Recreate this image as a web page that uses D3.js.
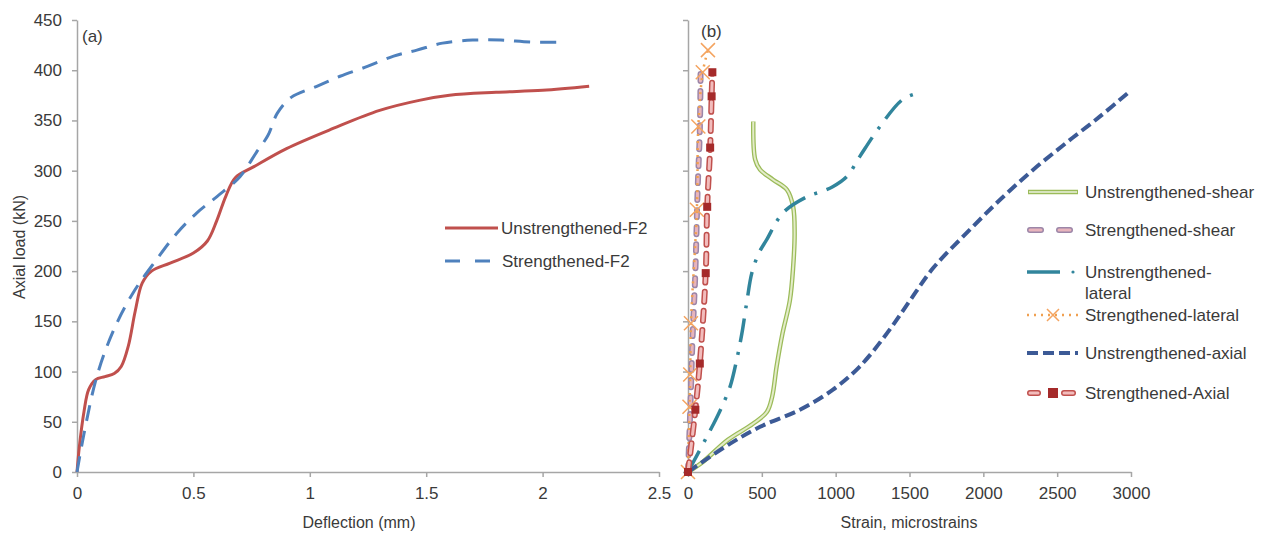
<!DOCTYPE html>
<html>
<head>
<meta charset="utf-8">
<script src="https://cdn.jsdelivr.net/npm/d3@7"></script>
<style>
  body { margin: 0; background: #fff; }
  text { font-family: "Liberation Sans", Arial, sans-serif; fill: #3a3a3a; }
</style>
</head>
<body>
<svg width="1272" height="533"></svg>
<script>
// panel (a): deflection (mm) vs axial load (kN)
var unstrF2 = [[0,0],[0.01,25],[0.03,60],[0.05,82],[0.08,92],[0.12,95],[0.16,98],[0.19,105],[0.22,125],[0.25,160],[0.28,188],[0.32,200],[0.4,208],[0.5,218],[0.56,230],[0.6,250],[0.64,275],[0.68,293],[0.76,304],[0.9,322],[1.1,342],[1.3,360],[1.47,370],[1.6,375],[1.8,378],[2.0,380],[2.2,384]];
var strF2 = [[0,0],[0.03,38],[0.085,95],[0.155,140],[0.24,178],[0.34,211],[0.43,238],[0.515,258],[0.6,274],[0.7,294],[0.77,318],[0.82,335],[0.86,357],[0.92,373],[1.03,384],[1.13,394],[1.25,404],[1.36,414],[1.46,420],[1.57,427],[1.7,430],[1.82,430],[1.95,428],[2.1,428]];

// panel (b): strain (microstrains) vs axial load (kN)
var unstrShear = [[0,0],[100,10],[270,32],[440,48],[535,60],[570,75],[600,105],[640,138],[690,171],[712,204],[722,238],[712,264],[670,281],[576,291],[488,301],[455,311],[442,349]];
var strShear = [[0,0],[15,60],[30,130],[50,200],[65,280],[80,340],[85,397]];
var unstrLateral = [[0,0],[170,47],[220,62],[285,85],[330,112],[365,138],[400,171],[432,198],[480,218],[532,231],[643,258],[805,274],[900,279],[980,284],[1075,294],[1163,314],[1300,344],[1455,371],[1575,378]];
var strLateral = [[0,0],[10,65],[15,97],[20,148],[60,261],[70,344],[100,398],[135,420]];
var unstrAxial = [[0,0],[250,25],[488,45],[758,62],[982,82],[1163,105],[1347,138],[1500,170],[1660,203],[1887,238],[2113,271],[2338,301],[2564,328],[2790,354],[3000,380]];
var strAxial = [[0,0],[50,62],[80,108],[120,198],[130,264],[150,323],[160,374],[165,398]];

var loadTicks = [0,50,100,150,200,250,300,350,400,450];
var deflTicks = [0,0.5,1,1.5,2,2.5];
var strainTicks = [0,500,1000,1500,2000,2500,3000];

var svg = d3.select("svg");
var plotTop = 20, plotBottom = 472;

var yScale = d3.scaleLinear().domain([0,450]).range([plotBottom, plotTop]);
var xA = d3.scaleLinear().domain([0,2.5]).range([77, 659]);
var xB = d3.scaleLinear().domain([0,3000]).range([688, 1131]);

function drawAxes(x, ticks, showY, fmt) {
  var gx = svg.append("g").attr("transform", "translate(0," + plotBottom + ")")
    .call(d3.axisBottom(x).tickValues(ticks).tickSize(5).tickSizeOuter(0).tickFormat(fmt));
  var gy = svg.append("g").attr("transform", "translate(" + x.range()[0] + ",0)")
    .call(d3.axisLeft(yScale).tickValues(loadTicks).tickSize(5).tickSizeOuter(0)
      .tickFormat(showY ? d3.format("d") : ""));
  [gx, gy].forEach(function(g) {
    g.select(".domain").attr("stroke", "#a6a6a6").attr("stroke-width", 1.5);
    g.selectAll(".tick line").attr("stroke", "#a6a6a6").attr("stroke-width", 1.5);
    g.selectAll(".tick text").attr("fill", "#3a3a3a").style("font-size", "17px")
      .style("font-family", "Liberation Sans, Arial, sans-serif");
  });
  gx.selectAll(".tick text").attr("dy", "1.1em");
  gy.selectAll(".tick text").attr("x", -15);
}

drawAxes(xA, deflTicks, true, function(d) { return d; });
drawAxes(xB, strainTicks, false, d3.format("d"));

var lineA = d3.line().x(function(d){return xA(d[0]);}).y(function(d){return yScale(d[1]);}).curve(d3.curveCatmullRom.alpha(0.5));
var lineB = d3.line().x(function(d){return xB(d[0]);}).y(function(d){return yScale(d[1]);}).curve(d3.curveCatmullRom.alpha(0.5));

// panel (a) series
svg.append("path").attr("d", lineA(unstrF2)).attr("fill","none").attr("stroke","#c0504d").attr("stroke-width",3);
svg.append("path").attr("d", lineA(strF2)).attr("fill","none").attr("stroke","#4f81bd").attr("stroke-width",3).attr("stroke-dasharray","16,10");

// panel (b) series
function pill(data, outline, fill, dash) {
  svg.append("path").attr("d", lineB(data)).attr("fill","none").attr("stroke",outline)
    .attr("stroke-width",6).attr("stroke-dasharray",dash).attr("stroke-linecap","round");
  svg.append("path").attr("d", lineB(data)).attr("fill","none").attr("stroke",fill)
    .attr("stroke-width",3).attr("stroke-dasharray",dash).attr("stroke-linecap","round");
}
svg.append("path").attr("d", lineB(unstrShear)).attr("fill","none").attr("stroke","#9bbb59").attr("stroke-width",4.5);
svg.append("path").attr("d", lineB(unstrShear)).attr("fill","none").attr("stroke","#e3ecc8").attr("stroke-width",2);
pill(strShear, "#9c86a8", "#e8b4bc", "7,10");
svg.append("path").attr("d", lineB(unstrLateral)).attr("fill","none").attr("stroke","#31859c").attr("stroke-width",3.5).attr("stroke-dasharray","24,10,3,10");
svg.append("path").attr("d", lineB(strLateral)).attr("fill","none").attr("stroke","#f0a050").attr("stroke-width",2.5).attr("stroke-dasharray","2,5");
function xMark(g, cx, cy, s) {
  g.append("path").attr("d", "M"+(cx-s)+","+(cy-s)+"L"+(cx+s)+","+(cy+s)+"M"+(cx-s)+","+(cy+s)+"L"+(cx+s)+","+(cy-s))
    .attr("stroke","#f4a460").attr("stroke-width",1.5).attr("fill","none");
}
strLateral.forEach(function(d){ xMark(svg, xB(d[0]), yScale(d[1]), 7); });
svg.append("path").attr("d", lineB(unstrAxial)).attr("fill","none").attr("stroke","#3c5a96").attr("stroke-width",4).attr("stroke-dasharray","11,5");
pill(strAxial, "#c0504d", "#f2bcbc", "10,9");
svg.selectAll("rect.sq").data(strAxial).enter().append("rect").attr("class","sq")
  .attr("x", function(d){return xB(d[0])-4;}).attr("y", function(d){return yScale(d[1])-4;})
  .attr("width",8).attr("height",8).attr("fill","#a52a2a");

// panel labels
svg.append("text").attr("x",82).attr("y",42).style("font-size","17px").text("(a)");
svg.append("text").attr("x",701).attr("y",37).style("font-size","17px").text("(b)");

// axis titles
svg.append("text").attr("x",359).attr("y",528).attr("text-anchor","middle").style("font-size","16px").text("Deflection (mm)");
svg.append("text").attr("x",909).attr("y",528).attr("text-anchor","middle").style("font-size","16px").text("Strain, microstrains");
svg.append("text").attr("transform","translate(25,247) rotate(-90)").attr("text-anchor","middle").style("font-size","16px").text("Axial load (kN)");

// legend (a)
var legA = svg.append("g");
legA.append("line").attr("x1",445).attr("x2",498).attr("y1",228).attr("y2",228).attr("stroke","#c0504d").attr("stroke-width",3);
legA.append("line").attr("x1",445).attr("x2",490).attr("y1",261).attr("y2",261).attr("stroke","#4f81bd").attr("stroke-width",3).attr("stroke-dasharray","15,15");
legA.append("text").attr("x",501).attr("y",234).style("font-size","17px").text("Unstrengthened-F2");
legA.append("text").attr("x",502).attr("y",267).style("font-size","17px").text("Strengthened-F2");

// legend (b)
var legB = svg.append("g");
legB.append("line").attr("x1",1028).attr("x2",1078).attr("y1",192).attr("y2",192).attr("stroke","#9bbb59").attr("stroke-width",4.5);
legB.append("line").attr("x1",1029).attr("x2",1077).attr("y1",192).attr("y2",192).attr("stroke","#d7e4bd").attr("stroke-width",2);
[[1030,1041],[1059,1070]].forEach(function(s){
  legB.append("line").attr("x1",s[0]).attr("x2",s[1]).attr("y1",230).attr("y2",230).attr("stroke","#9c86a8").attr("stroke-width",6).attr("stroke-linecap","round");
  legB.append("line").attr("x1",s[0]).attr("x2",s[1]).attr("y1",230).attr("y2",230).attr("stroke","#e8b4bc").attr("stroke-width",3).attr("stroke-linecap","round");
});
legB.append("line").attr("x1",1027).attr("x2",1060).attr("y1",272).attr("y2",272).attr("stroke","#31859c").attr("stroke-width",3.5);
legB.append("circle").attr("cx",1073).attr("cy",272).attr("r",1.6).attr("fill","#31859c");
legB.append("line").attr("x1",1027).attr("x2",1078).attr("y1",315).attr("y2",315).attr("stroke","#f0a050").attr("stroke-width",2.5).attr("stroke-dasharray","2,5");
xMark(legB, 1053, 315, 6);
legB.append("line").attr("x1",1027).attr("x2",1078).attr("y1",353).attr("y2",353).attr("stroke","#3c5a96").attr("stroke-width",4).attr("stroke-dasharray","11,5");
[[1030,1038],[1064,1073]].forEach(function(s){
  legB.append("line").attr("x1",s[0]).attr("x2",s[1]).attr("y1",393).attr("y2",393).attr("stroke","#c0504d").attr("stroke-width",6).attr("stroke-linecap","round");
  legB.append("line").attr("x1",s[0]).attr("x2",s[1]).attr("y1",393).attr("y2",393).attr("stroke","#f2bcbc").attr("stroke-width",3).attr("stroke-linecap","round");
});
legB.append("rect").attr("x",1048).attr("y",388).attr("width",10).attr("height",10).attr("fill","#a52a2a");

var legTexts = [["Unstrengthened-shear",198],["Strengthened-shear",236],["Unstrengthened-",278],["lateral",299],["Strengthened-lateral",321],["Unstrengthened-axial",359],["Strengthened-Axial",399]];
legTexts.forEach(function(t){
  legB.append("text").attr("x",1085).attr("y",t[1]).style("font-size","17px").text(t[0]);
});
</script>
</body>
</html>
